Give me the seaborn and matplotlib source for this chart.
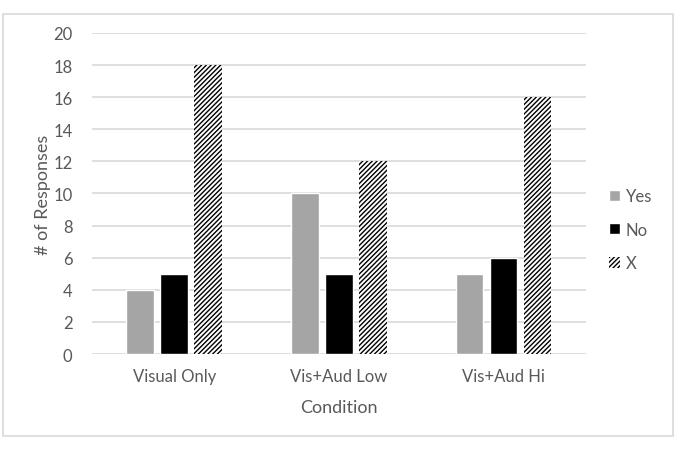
import matplotlib
matplotlib.use("Agg")
import matplotlib.pyplot as plt
import seaborn as sns
import pandas as pd
from matplotlib.patches import Rectangle, Patch

conditions = ["Visual Only", "Vis+Aud Low", "Vis+Aud Hi"]
responses = ["Yes", "No", "X"]
yes_counts = [4, 10, 5]
no_counts = [5, 5, 6]
x_counts = [18, 12, 16]

df = pd.DataFrame({
    "Condition": conditions * 3,
    "Response": [r for r in responses for _ in conditions],
    "Count": yes_counts + no_counts + x_counts,
})

sns.set_style("white")
plt.rcParams["font.family"] = ["Lato", "DejaVu Sans"]
plt.rcParams["hatch.linewidth"] = 1.0
text_col = "#595959"
grid_col = "#D9D9D9"

fig = plt.figure(figsize=(6.78, 4.52), dpi=100)
ax = fig.add_axes([0.1357, 0.2146, 0.7283, 0.7102])

palette = {"Yes": "#A5A5A5", "No": "#000000", "X": "#FFFFFF"}
sns.barplot(data=df, x="Condition", y="Count", hue="Response", order=conditions,
            hue_order=responses, palette=palette, width=0.62, gap=0.18,
            saturation=1, legend=False, ax=ax, zorder=3)

# hatch the X bars
for bar in ax.containers[2]:
    bar.set_hatch("///////")
    bar.set_edgecolor("black")
    bar.set_linewidth(0)

ax.set_ylim(0, 20)
ax.set_yticks(range(0, 21, 2))
ax.yaxis.grid(True, color=grid_col, linewidth=1.2, zorder=0)
ax.set_axisbelow(True)
for s in ["top", "right", "left", "bottom"]:
    ax.spines[s].set_visible(False)
ax.tick_params(axis="both", length=0, labelsize=12, colors=text_col)
ax.tick_params(axis="y", pad=14)
ax.tick_params(axis="x", pad=10)
ax.set_xlabel("Condition", fontsize=13, color=text_col, labelpad=11)
ax.set_ylabel("# of Responses", fontsize=13, color=text_col, labelpad=2)

handles = [Patch(facecolor="#A5A5A5", label="Yes"),
           Patch(facecolor="#000000", label="No"),
           Patch(facecolor="white", edgecolor="black", hatch="///////", linewidth=0, label="X")]
leg = fig.legend(handles=handles, loc="center left", bbox_to_anchor=(0.876, 0.49),
                 frameon=False, fontsize=12, handlelength=0.65, handleheight=0.65,
                 handletextpad=0.35, labelspacing=1.05)
for t in leg.get_texts():
    t.set_color(text_col)

fig.patches.append(Rectangle((0.004, 0.033), 0.988, 0.934, transform=fig.transFigure,
                             fill=False, edgecolor=grid_col, linewidth=1.2))

fig.savefig("out.png", dpi=100)
